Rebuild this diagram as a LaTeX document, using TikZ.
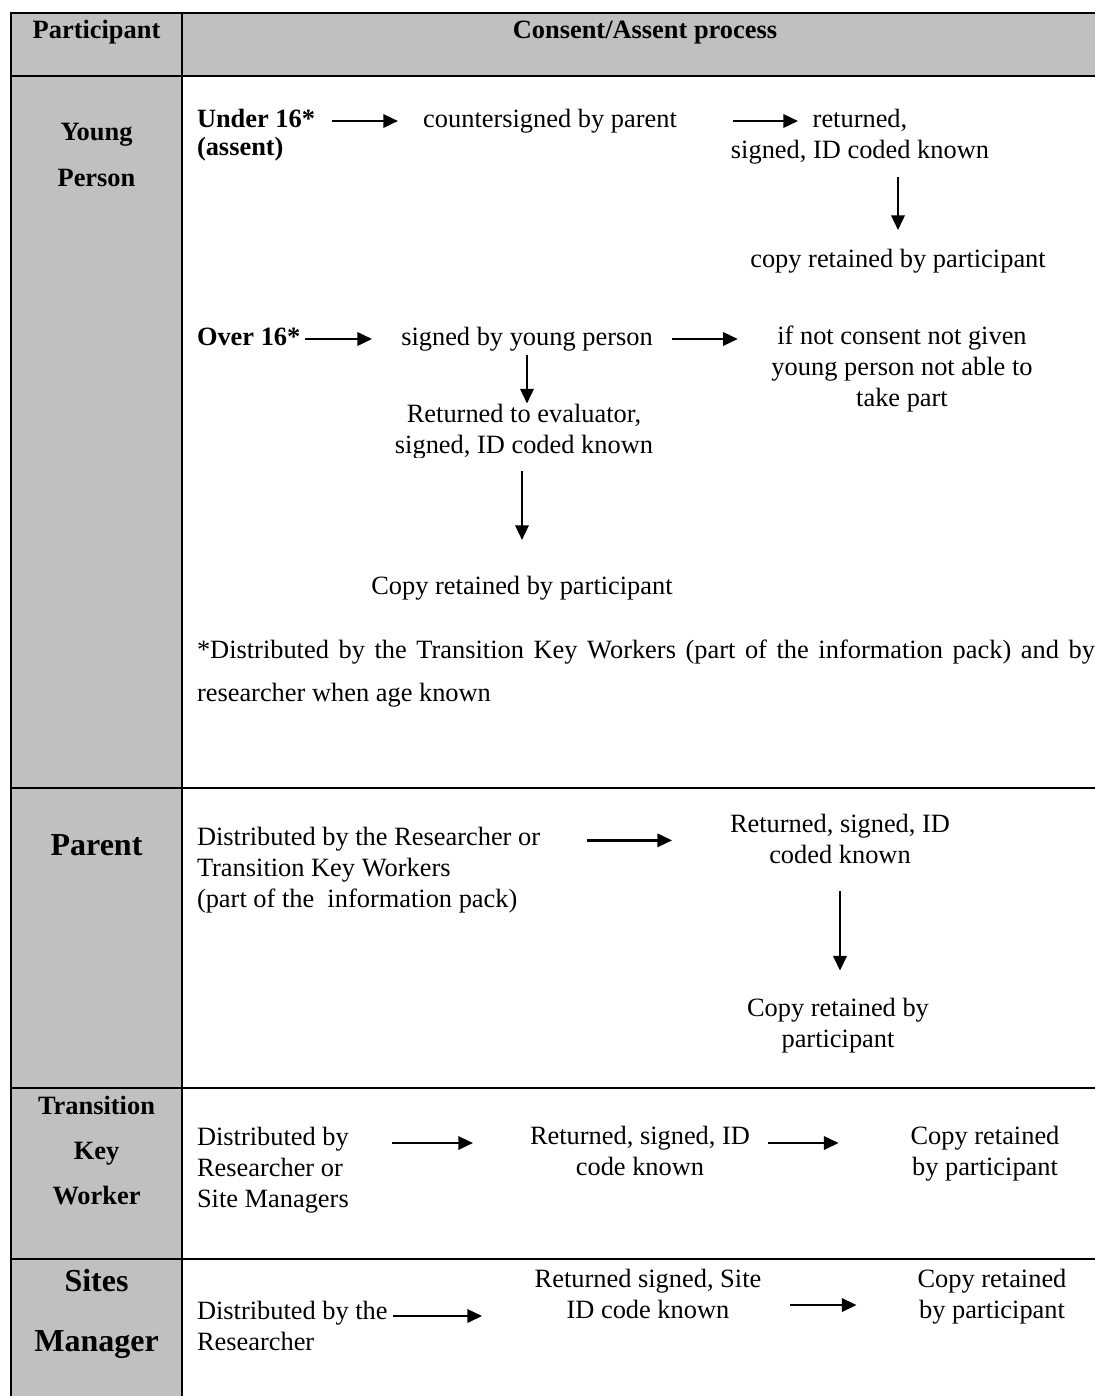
\documentclass[tikz,border=0pt]{standalone}
\usepackage{fontspec}
\setmainfont{Liberation Serif}
\usetikzlibrary{arrows.meta}
\definecolor{cellgray}{HTML}{C0C0C0}
\begin{document}
\begin{tikzpicture}[x=0.75pt,y=-0.75pt,
  rule/.style={line width=1.6pt},
  txt/.style={inner sep=0pt, outer sep=0pt, align=center,
    font=\fontsize{19.8}{23.25}\selectfont,
    execute at begin node=\strut, execute at end node=\strut},
  txtl/.style={txt, align=left},
  lab/.style={txt, font=\bfseries\fontsize{19.8}{23.25}\selectfont},
  arr/.style={line width=1.8pt, -{Triangle[length=11pt,width=10pt]}},
]
\useasboundingbox (0,0) rectangle (1095,1396);
\clip (0,0) rectangle (1095,1396);

% table: shaded header row and participant column
\fill[cellgray] (11,13) rectangle (1120,76);
\fill[cellgray] (11,76) rectangle (182,1420);
\draw[rule] (1120,13) -- (11,13) -- (11,1420);
\draw[rule] (182,13) -- (182,1420);
\foreach \yy in {76,788,1088,1259} \draw[rule] (11,\yy) -- (1120,\yy);

% header
\node[lab] (hpart) at (96.5,32) {Participant};
\node[lab] (hproc) at (645,32) {Consent/Assent process};

% young person
\node[lab, font=\bfseries\fontsize{19.8}{34.5}\selectfont] (yp) at (96.5,161.5) {Young\\Person};
\node[txtl, font=\bfseries\fontsize{19.8}{21}\selectfont, anchor=west] (u16) at (197,137) {Under 16*\\(assent)};
\node[txt] (cs) at (550,121) {countersigned by parent};
\node[txt] (ret1) at (860,138) {returned,\\signed, ID coded known};
\node[txt] (cp1) at (898,261) {copy retained by participant};
\node[txtl, font=\bfseries\fontsize{19.8}{23.25}\selectfont, anchor=west] (o16) at (197,339) {Over 16*};
\node[txt] (sy) at (527,339) {signed by young person};
\node[txt] (inc) at (902,371) {if not consent not given\\young person not able to\\take part};
\begin{scope}
  \clip (300,395) rectangle (760,457);
  \node[txt] (rte) at (524,433.5) {Returned to evaluator,\\signed, ID coded known};
\end{scope}
\node[txt] (cp2) at (522,588) {Copy retained by participant};
\node[txt, align=justify, text width=673.5pt, anchor=west,
  font=\fontsize{19.8}{32.25}\selectfont] (fn) at (197,671.5)
  {*Distributed by the Transition Key Workers (part of the information pack) and by\linebreak researcher when age known};

\draw[arr, shorten <=12.7pt, shorten >=18.9pt] (u16.east |- cs.west) -- (cs.west);
\draw[arr, shorten <=42.2pt, shorten >=46.5pt] (cs.east) -- (cs.east -| ret1.north);
\draw[arr, shorten <=7.5pt, shorten >=11.6pt] (cp1.north |- ret1.south) -- (cp1.north);
\draw[arr, shorten <=3.5pt, shorten >=21.9pt] (o16.east) -- (sy.west);
\draw[arr, shorten <=14.4pt, shorten >=25.3pt] (sy.east) -- (sy.east -| inc.west);
\draw[arr, shorten >=0.5pt] (sy.south) -- (sy.south |- rte.north);
\draw[arr, shorten <=6.4pt, shorten >=24.4pt] (cp2.north |- rte.south) -- (cp2.north);

% parent
\node[lab, font=\bfseries\fontsize{24}{28}\selectfont] (par) at (96.5,848) {Parent};
\node[txtl, anchor=west] (pd) at (197,872) {Distributed by the Researcher or\\Transition Key Workers\\(part of the\ \ information pack)};
\node[txt] (pr) at (840,843) {Returned, signed, ID\\coded known};
\node[txt] (pc) at (838,1027) {Copy retained by\\participant};
\draw[arr, shorten <=35.5pt, shorten >=43.5pt] ([yshift=2pt]pd.east |- pr.west) -- ([yshift=2pt]pr.west);
\draw[arr, shorten <=13.9pt, shorten >=20.3pt] (pr.south) -- (pr.south |- pc.north);

% transition key worker
\node[lab, font=\bfseries\fontsize{19.8}{33.4}\selectfont] (tkw) at (96.5,1157) {Transition\\Key\\Worker};
\node[txtl, anchor=west] (td) at (197,1172) {Distributed by\\Researcher or\\Site Managers};
\node[txt] (tr) at (640,1155) {Returned, signed, ID\\code known};
\node[txt] (tc) at (985,1155) {Copy retained\\by participant};
\draw[arr, shorten <=32.4pt, shorten >=42.8pt] ([yshift=9pt]td.east |- tr.west) -- ([yshift=9pt]tr.west);
\draw[arr, shorten <=13.5pt, shorten >=54pt] ([yshift=9pt]tr.east) -- ([yshift=9pt]tr.east -| tc.west);

% sites manager
\node[lab, font=\bfseries\fontsize{24}{45}\selectfont] (sm) at (96.5,1319) {Sites\\Manager};
\node[txtl, anchor=west] (sd) at (197,1330) {Distributed by the\\Researcher};
\node[txt] (sr) at (648,1298.5) {Returned signed, Site\\ID code known};
\node[txt] (sc) at (992,1298) {Copy retained\\by participant};
\draw[arr, shorten <=4pt, shorten >=39.5pt] ([yshift=10.5pt]sd.east) -- ([yshift=10.5pt]sd.east -| sr.west);
\draw[arr, shorten <=21.5pt, shorten >=45.8pt] ([yshift=-4.9pt]sr.east) -- ([yshift=-4.9pt]sr.east -| sc.west);
\end{tikzpicture}
\end{document}
